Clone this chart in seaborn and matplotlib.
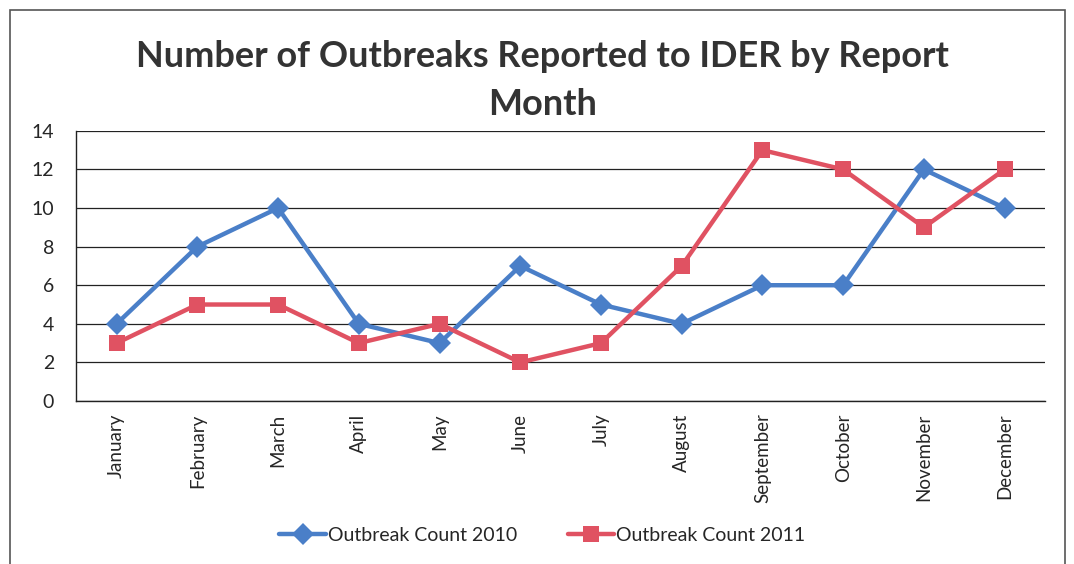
import matplotlib
matplotlib.use("Agg")
import matplotlib.pyplot as plt
from matplotlib.patches import Rectangle
from matplotlib.ticker import FixedLocator
import seaborn as sns
import pandas as pd

# chart data
months = ["January", "February", "March", "April", "May", "June", "July",
          "August", "September", "October", "November", "December"]
count_2010 = [4, 8, 10, 4, 3, 7, 5, 4, 6, 6, 12, 10]
count_2011 = [3, 5, 5, 3, 4, 2, 3, 7, 13, 12, 9, 12]
series_names = ["Outbreak Count 2010", "Outbreak Count 2011"]

df = pd.DataFrame({
    "month": months * 2,
    "count": count_2010 + count_2011,
    "series": [series_names[0]] * len(months) + [series_names[1]] * len(months),
})

sns.set_style("white")
plt.rcParams["font.family"] = ["Lato", "DejaVu Sans"]

fig = plt.figure(figsize=(10.74, 5.64), dpi=100)
ax = fig.add_axes([0.071, 0.289, 0.902, 0.479])

palette = {series_names[0]: "#4a7fc8", series_names[1]: "#e05262"}
markers = {series_names[0]: "D", series_names[1]: "s"}

sns.lineplot(data=df, x="month", y="count", hue="series", style="series",
             palette=palette, markers=markers, dashes=False, sort=False,
             linewidth=3.2, markersize=11, markeredgewidth=0, ax=ax)

ax.set_xlim(-0.5, len(months) - 0.5)
ax.set_ylim(0, 14)
ax.set_yticks(range(0, 15, 2))
ax.yaxis.grid(True, color="#222222", linewidth=0.9)
ax.xaxis.grid(False)
ax.set_xlabel("")
ax.set_ylabel("")

# Excel-style category ticks between months
ax.set_xticks(range(len(months)))
ax.set_xticklabels(months, rotation=90, fontsize=13.5)
ax.tick_params(axis="x", which="major", length=0, pad=9)
ax.xaxis.set_minor_locator(FixedLocator([i + 0.5 for i in range(len(months))]))
ax.tick_params(axis="x", which="minor", direction="in", length=6, width=1, color="#222222")
ax.tick_params(axis="y", labelsize=14, length=0, pad=16)

for side in ["top", "right"]:
    ax.spines[side].set_visible(False)
for side in ["left", "bottom"]:
    ax.spines[side].set_color("#222222")
    ax.spines[side].set_linewidth(1)

fig.text(0.505, 0.857, "Number of Outbreaks Reported to IDER by Report\nMonth",
         ha="center", va="center", fontsize=26, fontweight="bold",
         color="#333333", linespacing=1.55)

ax.get_legend().remove()
handles, labels = ax.get_legend_handles_labels()
fig.legend(handles, labels, loc="center", bbox_to_anchor=(0.505, 0.05),
           ncol=2, frameon=False, fontsize=14, handlelength=2.4,
           columnspacing=2.6, handletextpad=0.1)

# outer chart frame
fig.patches.append(Rectangle((0.009, -0.01), 0.983, 0.993, transform=fig.transFigure,
                             fill=False, edgecolor="#555555", linewidth=1.2))

fig.savefig("out.png", dpi=100)
